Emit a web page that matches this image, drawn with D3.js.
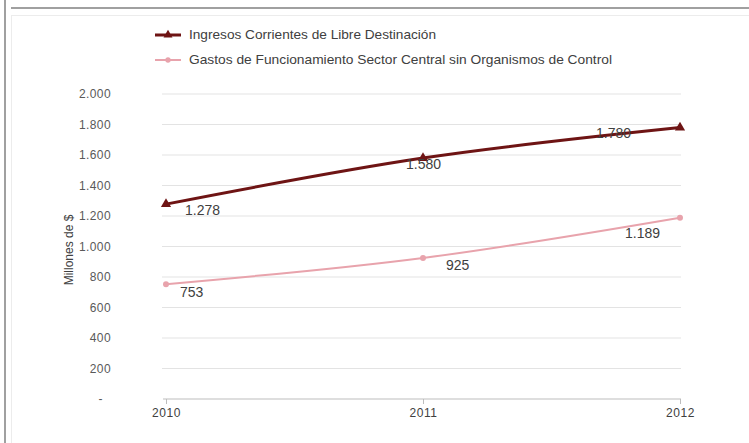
<!DOCTYPE html>
<html><head><meta charset="utf-8">
<script src="https://cdn.jsdelivr.net/npm/d3@7"></script>
<style>body{margin:0;background:#fff;}svg{display:block;font-family:"Liberation Sans",Arial,sans-serif;}</style>
</head><body>
<script>
const years = ["2010", "2011", "2012"];
const ingresos = [1278, 1580, 1780];
const gastos = [753, 925, 1189];
const seriesNames = ["Ingresos Corrientes de Libre Destinación", "Gastos de Funcionamiento Sector Central sin Organismos de Control"];
const yTicks = [0, 200, 400, 600, 800, 1000, 1200, 1400, 1600, 1800, 2000];
const yTitle = "Millones de $";

const W = 749, H = 443;
const svg = d3.select("body").append("svg").attr("width", W).attr("height", H);

// frame
svg.append("rect").attr("x", 4).attr("y", 0).attr("width", 2).attr("height", H).attr("fill", "#a0a0a0");
svg.append("rect").attr("x", 11).attr("y", 7).attr("width", W - 11).attr("height", 2).attr("fill", "#a0a0a0");
svg.append("rect").attr("x", 11).attr("y", 15).attr("width", 1).attr("height", H - 15).attr("fill", "#ececec");
svg.append("rect").attr("x", 11).attr("y", 15).attr("width", W - 11).attr("height", 1).attr("fill", "#ececec");

const x = d3.scalePoint().domain(years).range([166, 680]);
const y = d3.scaleLinear().domain([0, 2000]).range([399, 94]);

// gridlines
svg.append("g").selectAll("line").data(yTicks.filter(d => d > 0)).join("line")
  .attr("x1", 162).attr("x2", 681).attr("y1", d => y(d)).attr("y2", d => y(d))
  .attr("stroke", "#e3e3e3").attr("stroke-width", 1);

// y axis labels
const fmt = d => d === 0 ? "-" : d3.format(",")(d).replace(/,/g, ".");
const yAxis = d3.axisLeft(y).tickValues(yTicks).tickFormat(fmt).tickSize(0).tickPadding(0);
const gy = svg.append("g").attr("transform", "translate(111,0)").call(yAxis);
gy.select(".domain").remove();
gy.selectAll("text").attr("fill", "#595959").style("font-size", "12px").style("letter-spacing", "0.4px")
  .style("font-family", "Liberation Sans, Arial, sans-serif");
gy.selectAll("text").filter(d => d === 0).attr("dx", -8);

// x axis
const xAxis = d3.axisBottom(x).tickSize(5).tickPadding(4);
const gx = svg.append("g").attr("transform", "translate(0,399)").call(xAxis);
gx.select(".domain").attr("d", "M163,0H681").attr("stroke", "#bdbdbd");
gx.selectAll(".tick line").attr("stroke", "#bdbdbd");
gx.selectAll("text").attr("fill", "#404040").style("font-size", "12px").style("letter-spacing", "0.6px")
  .style("font-family", "Liberation Sans, Arial, sans-serif");

// y title
svg.append("text").attr("transform", "translate(73,250) rotate(-90)").attr("text-anchor", "middle")
  .attr("fill", "#404040").style("font-size", "12px").text(yTitle);

const series = [
  {name: seriesNames[0], values: ingresos, color: "#6e1414", width: 3, marker: "triangle", labelOff: [[19, 11], [-17, 11], [-84, 10]], legendLen: 247},
  {name: seriesNames[1], values: gastos, color: "#e8a3ac", width: 2, marker: "circle", labelOff: [[14, 13], [23, 12], [-55, 20]], legendLen: 423}
];

const line = d3.line().x((d, i) => x(years[i])).y(d => y(d)).curve(d3.curveMonotoneX);

series.forEach(s => {
  svg.append("path").datum(s.values).attr("d", line).attr("fill", "none")
    .attr("stroke", s.color).attr("stroke-width", s.width);
  const sym = d3.symbol().type(s.marker === "triangle" ? d3.symbolTriangle : d3.symbolCircle).size(s.marker === "triangle" ? 45 : 28);
  svg.append("g").selectAll("path").data(s.values).join("path")
    .attr("transform", (d, i) => `translate(${x(years[i])},${y(d)})`)
    .attr("d", sym).attr("fill", s.color);
  svg.append("g").selectAll("text").data(s.values).join("text")
    .attr("x", (d, i) => x(years[i]) + s.labelOff[i][0])
    .attr("y", (d, i) => y(d) + s.labelOff[i][1])
    .attr("fill", "#404040").style("font-size", "14px")
    .text(d => fmt(d));
});

// legend
series.forEach((s, i) => {
  const ly = 35 + i * 25;
  svg.append("line").attr("x1", 155).attr("x2", 181).attr("y1", ly).attr("y2", ly)
    .attr("stroke", s.color).attr("stroke-width", s.width);
  const sym = d3.symbol().type(s.marker === "triangle" ? d3.symbolTriangle : d3.symbolCircle).size(s.marker === "triangle" ? 35 : 22);
  svg.append("path").attr("transform", `translate(168,${ly})`).attr("d", sym).attr("fill", s.color);
  svg.append("text").attr("x", 189).attr("y", ly + 4).attr("fill", "#404040").style("font-size", "13px")
    .attr("textLength", s.legendLen).attr("lengthAdjust", "spacingAndGlyphs")
    .text(s.name);
});
</script>
</body></html>
